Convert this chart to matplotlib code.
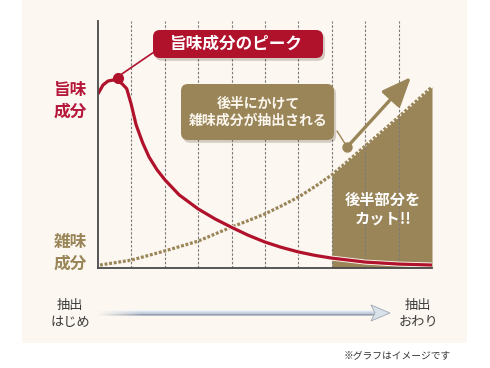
import matplotlib
matplotlib.use('Agg')
import matplotlib.pyplot as plt
import matplotlib.patheffects as pe
from matplotlib.patches import FancyBboxPatch, Polygon, Rectangle
import numpy as np

plt.rcParams['font.family'] = ['Noto Sans CJK JP', 'DejaVu Sans']

# extraction progress 0..10, amount 0..100
umami_x = [0.0, 0.15, 0.3, 0.45, 0.6, 0.72, 0.86, 0.99, 1.14, 1.34, 1.53, 1.77,
           2.01, 2.43, 3.0, 3.5, 4.01, 4.49, 5.0, 5.48, 6.0, 6.5, 7.0, 8.0, 9.0, 10.0]
umami_y = [70.5, 74.1, 75.7, 76.1, 75.7, 74.6, 72.6, 66.5, 58.0, 50.6, 44.9, 39.7,
           35.6, 29.6, 23.9, 19.9, 16.4, 13.3, 10.5, 8.4, 6.5, 5.1, 4.0, 2.4, 1.6, 1.2]
zatsumi_x = [0.06, 1.0, 2.0, 3.0, 4.0, 4.5, 5.0, 5.5, 6.0, 6.5, 7.0, 7.5, 8.0, 9.0, 10.0]
zatsumi_y = [1.2, 3.2, 6.9, 10.9, 16.6, 19.2, 21.9, 25.2, 28.7, 33.0, 37.7, 43.5, 49.4, 61.1, 73.3]
cut_start = 7.0
guide_x = [1, 2, 3, 4, 5, 6, 7, 8, 9]

CREAM = '#FCF7F0'
RED = '#B0122C'
BROWN = '#9A8558'
DARK = '#3A3A3A'

W, H = 490, 368
fig = plt.figure(figsize=(W / 100, H / 100), dpi=100)
fig.patch.set_facecolor('white')
fig.add_artist(Rectangle((22 / W, 25 / H), 445 / W, 343 / H, transform=fig.transFigure,
                         facecolor=CREAM, edgecolor='none', zorder=-10))

ax = fig.add_axes([98 / W, 100 / H, 334 / W, 247 / H])
ax.set_facecolor('none')
ax.set_xlim(0, 10)
ax.set_ylim(0, 100)
ax.set_xticks([])
ax.set_yticks([])
for s in ['top', 'right']:
    ax.spines[s].set_visible(False)
for s in ['left', 'bottom']:
    ax.spines[s].set_color('#4A4A4A')
    ax.spines[s].set_linewidth(1.3)
    ax.spines[s].set_zorder(6)

zx = np.array(zatsumi_x)
zy = np.array(zatsumi_y)
ax.fill_between(zx, 0, zy, where=zx >= cut_start, color=BROWN, lw=0, zorder=1)

for gx in guide_x:
    ax.axvline(gx, color='#7A7A7A', lw=0.8, ls=(0, (2.2, 1.6)), zorder=2)

ax.plot(zx, zy, color=BROWN, lw=2.3, ls=(0, (0.9, 0.55)), zorder=3)
ax.plot(umami_x, umami_y, color=RED, lw=2.3, zorder=4, solid_capstyle='butt',
        solid_joinstyle='round',
        path_effects=[pe.Stroke(linewidth=3.6, foreground=CREAM), pe.Normal()])

# peak marker + connector
ipk = int(np.argmax(umami_y))
pk = (umami_x[ipk], umami_y[ipk])
ax.annotate('', xy=pk, xytext=(154, H - 52), textcoords='figure pixels',
            arrowprops=dict(arrowstyle='-', color=RED, lw=1.2, shrinkA=0, shrinkB=0), zorder=5)
ax.plot([pk[0] + 0.15], [pk[1] + 0.8], 'o', color=RED, ms=7, zorder=6, clip_on=False)

# later-half marker + arrow
mk = (7.46, 49.0)
ax.annotate('', xy=mk, xytext=(337, H - 131), textcoords='figure pixels',
            arrowprops=dict(arrowstyle='-', color=BROWN, lw=1.0, shrinkA=0, shrinkB=0), zorder=5)
ax.annotate('', xy=(9.37, 77.3), xytext=mk,
            arrowprops=dict(arrowstyle='-|>,head_length=1.8,head_width=0.75', color=BROWN,
                            lw=2.4, shrinkA=0, shrinkB=0), zorder=5)
ax.plot([mk[0]], [mk[1]], 'o', color=BROWN, ms=6.5, zorder=6)

# overlay in pixel coordinates for labels and decorations
ov = fig.add_axes([0, 0, 1, 1], zorder=5)
ov.set_xlim(0, W)
ov.set_ylim(H, 0)
ov.axis('off')
ov.patch.set_alpha(0)

shadow = [pe.SimplePatchShadow(offset=(1.5, -2), alpha=0.25, shadow_rgbFace='#5A4A3A'), pe.Normal()]
red_box = FancyBboxPatch((153, 30), 170, 28, boxstyle='round,pad=0,rounding_size=7',
                         fc=RED, ec='none', path_effects=shadow)
ov.add_patch(red_box)
ov.text(236, 44, '旨味成分のピーク', color='white', fontsize=12, fontweight='bold',
        ha='center', va='center')

brown_box = FancyBboxPatch((181, 84), 153, 56, boxstyle='round,pad=0,rounding_size=7',
                           fc=BROWN, ec='none', path_effects=shadow)
ov.add_patch(brown_box)
ov.text(258, 112, '後半にかけて\n雑味成分が抽出される', color='#FBF6EE', fontsize=10,
        fontweight='bold', ha='center', va='center', linespacing=1.25)

ov.text(383, 209, '後半部分を\nカット!!', color='white', fontsize=11, fontweight='bold',
        ha='center', va='center', linespacing=1.2)

ov.text(70, 101, '旨味\n成分', color='#B5173A', fontsize=12, fontweight='bold',
        ha='center', va='center', linespacing=1.3)
ov.text(70, 253, '雑味\n成分', color=BROWN, fontsize=12, fontweight='bold',
        ha='center', va='center', linespacing=1.25)

ov.text(70, 314, '抽出\nはじめ', color=DARK, fontsize=9.5, ha='center', va='center',
        linespacing=1.4)
ov.text(418, 314, '抽出\nおわり', color=DARK, fontsize=9.5, ha='center', va='center',
        linespacing=1.4)

# time arrow with fade-in
x0, x1 = 97, 376
n = x1 - x0
rows = np.array([[0.94, 0.96, 0.98], [0.86, 0.89, 0.93], [0.80, 0.84, 0.89],
                 [0.75, 0.79, 0.85], [0.60, 0.63, 0.68], [0.72, 0.74, 0.78]])
img = np.ones((rows.shape[0], n, 4))
img[:, :, :3] = rows[:, None, :]
alpha = np.clip((np.arange(n) + 0.5) / 45.0, 0, 1)
img[:, :, 3] = alpha[None, :]
ov.imshow(img, extent=(x0, x1, 316, 310), origin='upper', aspect='auto',
          interpolation='bilinear', zorder=3)
ov.add_patch(Polygon([(371, 305), (390, 313), (371, 321), (375, 313)], closed=True,
                     fc='#D9E1EB', ec='#A0A8B4', lw=0.6, zorder=4))
ov.set_xlim(0, W)
ov.set_ylim(H, 0)

ov.text(397, 355, '※グラフはイメージです', color='#333333', fontsize=7, ha='center', va='center')

fig.savefig('out.png', dpi=100, facecolor=fig.get_facecolor())
